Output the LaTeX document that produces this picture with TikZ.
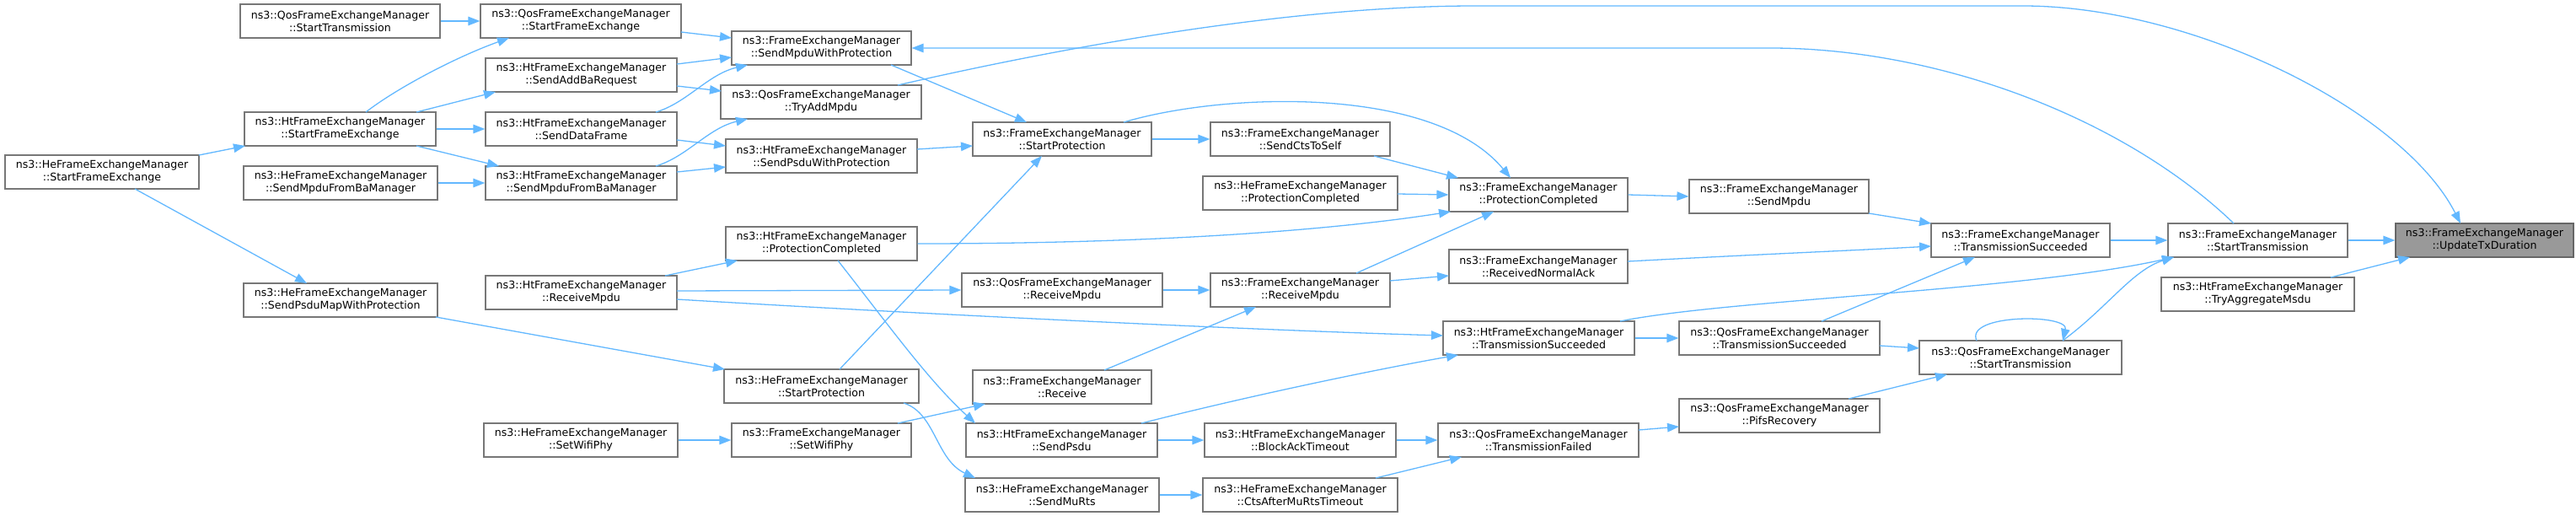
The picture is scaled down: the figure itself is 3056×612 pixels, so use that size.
\documentclass[tikz,border=0pt]{standalone}
\usepackage{fontspec}
\setmainfont{DejaVu Sans}
\usetikzlibrary{arrows.meta}
\definecolor{edgeblue}{HTML}{63B8FF}
\definecolor{boxgray}{HTML}{777777}
\definecolor{targetfill}{HTML}{999999}
\definecolor{targetdraw}{HTML}{666666}
\tikzset{
  fnbox/.style={draw=boxgray, line width=1.2pt, fill=white, inner sep=0pt,
    minimum height=40pt, align=center, font=\fontsize{12.6}{15}\selectfont},
  targetbox/.style={fnbox, draw=targetdraw, fill=targetfill},
  call/.style={draw=edgeblue, line width=1.3pt, -{Triangle[length=14pt,width=10.5pt]}}
}
\begin{document}
\begin{tikzpicture}[x=1pt,y=-1pt]
\useasboundingbox (0,0) rectangle (3056,612);
% column 1
\node[fnbox, minimum width=230pt] (heSFE) at (121,204) {ns3::HeFrameExchangeManager\\::StartFrameExchange};
% column 2
\node[fnbox, minimum width=237pt] (qosST2) at (403.5,25) {ns3::QosFrameExchangeManager\\::StartTransmission};
\node[fnbox, minimum width=227pt] (htSFE) at (403.5,153) {ns3::HtFrameExchangeManager\\::StartFrameExchange};
\node[fnbox, minimum width=230pt] (heSMFBM) at (404,217) {ns3::HeFrameExchangeManager\\::SendMpduFromBaManager};
\node[fnbox, minimum width=230pt] (heSPMWP) at (404,356) {ns3::HeFrameExchangeManager\\::SendPsduMapWithProtection};
% column 3
\node[fnbox, minimum width=238pt] (qosSFE) at (689,25) {ns3::QosFrameExchangeManager\\::StartFrameExchange};
\node[fnbox, minimum width=227pt] (htSABR) at (689.5,89) {ns3::HtFrameExchangeManager\\::SendAddBaRequest};
\node[fnbox, minimum width=227pt] (htSDF) at (689.5,153) {ns3::HtFrameExchangeManager\\::SendDataFrame};
\node[fnbox, minimum width=227pt] (htSMFBM) at (689.5,217) {ns3::HtFrameExchangeManager\\::SendMpduFromBaManager};
\node[fnbox, minimum width=227pt] (htRM) at (689.5,347) {ns3::HtFrameExchangeManager\\::ReceiveMpdu};
\node[fnbox, minimum width=230pt] (heSWP) at (689,522) {ns3::HeFrameExchangeManager\\::SetWifiPhy};
% column 4
\node[fnbox, minimum width=213pt] (femSMWP) at (974.5,57) {ns3::FrameExchangeManager\\::SendMpduWithProtection};
\node[fnbox, minimum width=238pt] (qosTAM) at (974,121) {ns3::QosFrameExchangeManager\\::TryAddMpdu};
\node[fnbox, minimum width=227pt] (htSPWP) at (974.5,185) {ns3::HtFrameExchangeManager\\::SendPsduWithProtection};
\node[fnbox, minimum width=227pt] (htPC) at (974.5,289) {ns3::HtFrameExchangeManager\\::ProtectionCompleted};
\node[fnbox, minimum width=231pt] (heSP) at (974.5,458) {ns3::HeFrameExchangeManager\\::StartProtection};
\node[fnbox, minimum width=213pt] (femSWP) at (974.5,522) {ns3::FrameExchangeManager\\::SetWifiPhy};
% column 5
\node[fnbox, minimum width=212pt] (femSP) at (1260,165) {ns3::FrameExchangeManager\\::StartProtection};
\node[fnbox, minimum width=238pt] (qosRM) at (1260,344) {ns3::QosFrameExchangeManager\\::ReceiveMpdu};
\node[fnbox, minimum width=212pt] (femR) at (1260,459) {ns3::FrameExchangeManager\\::Receive};
\node[fnbox, minimum width=227pt] (htSPsdu) at (1259.5,522) {ns3::HtFrameExchangeManager\\::SendPsdu};
\node[fnbox, minimum width=230pt] (heSMR) at (1260,587) {ns3::HeFrameExchangeManager\\::SendMuRts};
% column 6
\node[fnbox, minimum width=213pt] (femSCTS) at (1542.5,165) {ns3::FrameExchangeManager\\::SendCtsToSelf};
\node[fnbox, minimum width=231pt] (hePC) at (1542.5,229) {ns3::HeFrameExchangeManager\\::ProtectionCompleted};
\node[fnbox, minimum width=213pt] (femRM) at (1542.5,344) {ns3::FrameExchangeManager\\::ReceiveMpdu};
\node[fnbox, minimum width=227pt] (htBAT) at (1542.5,522) {ns3::HtFrameExchangeManager\\::BlockAckTimeout};
\node[fnbox, minimum width=231pt] (heCAMRT) at (1542.5,587) {ns3::HeFrameExchangeManager\\::CtsAfterMuRtsTimeout};
% column 7
\node[fnbox, minimum width=212pt] (femPC) at (1825,231) {ns3::FrameExchangeManager\\::ProtectionCompleted};
\node[fnbox, minimum width=212pt] (femRNA) at (1825,316) {ns3::FrameExchangeManager\\::ReceivedNormalAck};
\node[fnbox, minimum width=227pt] (htTS) at (1825.5,401) {ns3::HtFrameExchangeManager\\::TransmissionSucceeded};
\node[fnbox, minimum width=238pt] (qosTF) at (1825,522) {ns3::QosFrameExchangeManager\\::TransmissionFailed};
% column 8
\node[fnbox, minimum width=213pt] (femSM) at (2110.5,233) {ns3::FrameExchangeManager\\::SendMpdu};
\node[fnbox, minimum width=238pt] (qosTS) at (2111,401) {ns3::QosFrameExchangeManager\\::TransmissionSucceeded};
\node[fnbox, minimum width=238pt] (qosPR) at (2111,493) {ns3::QosFrameExchangeManager\\::PifsRecovery};
% column 9
\node[fnbox, minimum width=212pt] (femTS) at (2397,285) {ns3::FrameExchangeManager\\::TransmissionSucceeded};
\node[fnbox, minimum width=240pt] (qosST) at (2397,424) {ns3::QosFrameExchangeManager\\::StartTransmission};
% column 10
\node[fnbox, minimum width=213pt] (femST) at (2678.5,285) {ns3::FrameExchangeManager\\::StartTransmission};
\node[fnbox, minimum width=229pt] (htTAM) at (2678.5,349) {ns3::HtFrameExchangeManager\\::TryAggregateMsdu};
% column 11
\node[targetbox, minimum width=211pt] (upd) at (2947.5,285) {ns3::FrameExchangeManager\\::UpdateTxDuration};

% edges
\draw[call] (qosST2.east) -- (qosSFE.west);
\draw[call] ([shift={(30.5,-20)}]htSFE.center) .. controls (470,105) and (540,68) .. ([shift={(-85,20)}]qosSFE.center);
\draw[call] ([shift={(90.5,-20)}]htSFE.center) -- ([shift={(-101.5,20)}]htSABR.center);
\draw[call] (htSFE.east) -- (htSDF.west);
\draw[call] ([shift={(90.5,20)}]htSFE.center) -- ([shift={(-97.5,-20)}]htSMFBM.center);
\draw[call] (heSMFBM.east) -- (htSMFBM.west);
\draw[call] ([shift={(115,-20)}]heSFE.center) -- ([shift={(-112.5,20)}]htSFE.center);
\draw[call] ([shift={(39,20)}]heSFE.center) -- ([shift={(-40,-20)}]heSPMWP.center);
\draw[call] ([shift={(119,13)}]qosSFE.center) -- ([shift={(-106.5,-12)}]femSMWP.center);
\draw[call] ([shift={(113.5,-13)}]htSABR.center) -- ([shift={(-106.5,11)}]femSMWP.center);
\draw[call] ([shift={(113.5,13)}]htSABR.center) -- ([shift={(-118,-13)}]qosTAM.center);
\draw[call] ([shift={(88.5,-20)}]htSDF.center) .. controls (815,122) and (840,88) .. ([shift={(-87.5,20)}]femSMWP.center);
\draw[call] ([shift={(113.5,13)}]htSDF.center) -- ([shift={(-113.5,-12)}]htSPWP.center);
\draw[call] ([shift={(88.5,-20)}]htSMFBM.center) .. controls (815,186) and (840,152) .. ([shift={(-87,20)}]qosTAM.center);
\draw[call] ([shift={(113.5,-13)}]htSMFBM.center) -- ([shift={(-113.5,13)}]htSPWP.center);
\draw[call] ([shift={(82.5,20)}]femSMWP.center) -- ([shift={(-42,-20)}]femSP.center);
\draw[call] ([shift={(91,-20)}]qosTAM.center) .. controls (1200,70) and (1500,7) .. (1750,7) -- (2400,7) .. controls (2600,7) and (2850,130) .. ([shift={(-28.5,-20)}]upd.center);
\draw[call] ([shift={(-28.5,-20)}]femST.center) .. controls (2520,140) and (2300,57) .. (2100,57) -- (femSMWP.east);
\draw[call] ([shift={(113.5,-8)}]htSPWP.center) -- ([shift={(-106,8)}]femSP.center);
\draw[call] (htPC.east) .. controls (1400,289) and (1600,270) .. ([shift={(-104,20)}]femPC.center);
\draw[call] ([shift={(19.5,20)}]htPC.center) .. controls (1050,380) and (1100,450) .. ([shift={(-102.5,-20)}]htSPsdu.center);
\draw[call] ([shift={(21.5,-20)}]heSP.center) -- ([shift={(-24,20)}]femSP.center);
\draw[call] ([shift={(97.5,20)}]heSP.center) .. controls (1110,490) and (1110,545) .. ([shift={(-103,-20)}]heSMR.center);
\draw[call] ([shift={(90.5,-20)}]femSWP.center) -- ([shift={(-91,20)}]femR.center);
\draw[call] (heSWP.east) -- (femSWP.west);
\draw[call] ([shift={(99.5,-20)}]htRM.center) -- ([shift={(-99.5,20)}]htPC.center);
\draw[call] ([shift={(113.5,-2)}]htRM.center) -- (qosRM.west);
\draw[call] ([shift={(113.5,8)}]htRM.center) .. controls (1100,373) and (1500,392) .. ([shift={(-113.5,-3)}]htTS.center);
\draw[call] ([shift={(113,20)}]heSPMWP.center) -- ([shift={(-114.5,-20)}]heSP.center);
\draw[call] (qosRM.east) -- (femRM.west);
\draw[call] ([shift={(50,-20)}]femR.center) -- ([shift={(-52.5,20)}]femRM.center);
\draw[call] (htSPsdu.east) -- (htBAT.west);
\draw[call] ([shift={(94.5,-20)}]htSPsdu.center) .. controls (1500,465) and (1650,435) .. ([shift={(-95.5,20)}]htTS.center);
\draw[call] (heSMR.east) -- (heCAMRT.west);
\draw[call] (htBAT.east) -- (qosTF.west);
\draw[call] ([shift={(89.5,-20)}]heCAMRT.center) -- ([shift={(-91,20)}]qosTF.center);
\draw[call] (femSP.east) -- (femSCTS.west);
\draw[call] ([shift={(73,-20)}]femSP.center) .. controls (1450,110) and (1700,100) .. ([shift={(-33,-20)}]femPC.center);
\draw[call] ([shift={(87.5,20)}]femSCTS.center) -- ([shift={(-95,-20)}]femPC.center);
\draw[call] ([shift={(115.5,1)}]hePC.center) -- (femPC.west);
\draw[call] ([shift={(66.5,-20)}]femRM.center) -- ([shift={(-53,20)}]femPC.center);
\draw[call] ([shift={(106.5,-11)}]femRM.center) -- ([shift={(-106,11)}]femRNA.center);
\draw[call] (femPC.east) -- (femSM.west);
\draw[call] ([shift={(106.5,20)}]femSM.center) -- ([shift={(-106,-20)}]femTS.center);
\draw[call] ([shift={(106,-6)}]femRNA.center) .. controls (2100,301) and (2200,297) .. ([shift={(-106,7)}]femTS.center);
\draw[call] (htTS.east) -- (qosTS.west);
\draw[call] ([shift={(96.5,-20)}]htTS.center) .. controls (2050,355) and (2400,345) .. ([shift={(-99.5,20)}]femST.center);
\draw[call] ([shift={(50,-20)}]qosTS.center) -- ([shift={(-54,20)}]femTS.center);
\draw[call] ([shift={(119,9)}]qosTS.center) -- ([shift={(-120,-11)}]qosST.center);
\draw[call] ([shift={(119,-12)}]qosTF.center) -- ([shift={(-119,13)}]qosPR.center);
\draw[call] ([shift={(82,-20)}]qosPR.center) -- ([shift={(-87,20)}]qosST.center);
\draw[call] ([shift={(-52,-20)}]qosST.center) .. controls (2330,372) and (2455,372) .. ([shift={(50,-20)}]qosST.center);
\draw[call] ([shift={(50,-20)}]qosST.center) .. controls (2500,365) and (2530,320) .. ([shift={(-99.5,20)}]femST.center);
\draw[call] (femTS.east) -- (femST.west);
\draw[call] (femST.east) -- (upd.west);
\draw[call] ([shift={(86.5,-20)}]htTAM.center) -- ([shift={(-88.5,20)}]upd.center);
\end{tikzpicture}
\end{document}
